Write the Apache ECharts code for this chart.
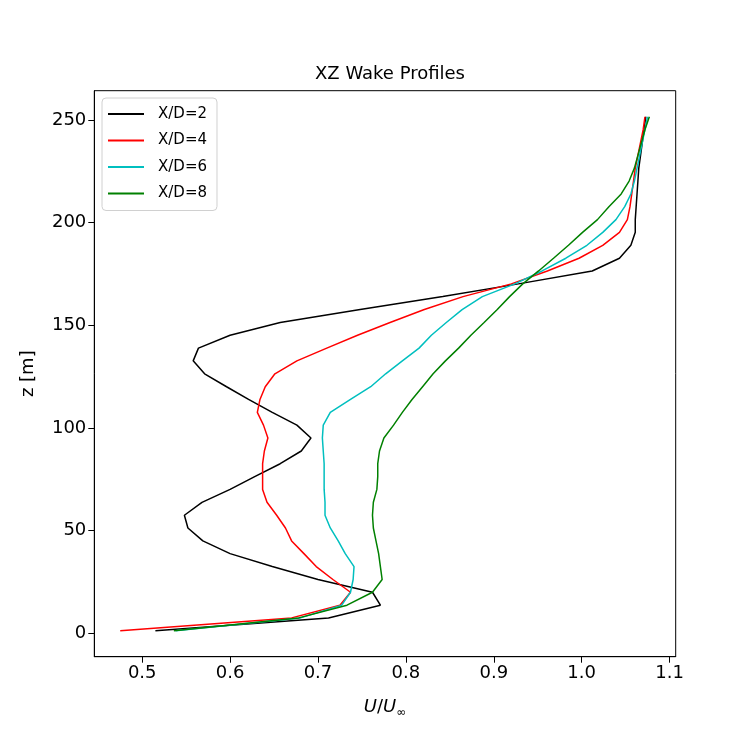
<!DOCTYPE html>
<html>
<head>
<meta charset="utf-8">
<script src="https://cdn.jsdelivr.net/npm/echarts@6/dist/echarts.min.js"></script>
<style>html,body{margin:0;padding:0;background:#fff}#c{width:750px;height:750px}</style>
</head>
<body>
<div id="c"></div>
<script>
// Heights (m) of the profile sample levels
var zLevels = [1.2, 7.5, 13.7, 20.0, 26.2, 32.5, 38.8, 45.0, 51.3, 57.5, 63.8, 70.1, 76.3, 82.6, 88.8, 95.1,
  101.4, 107.6, 113.9, 120.1, 126.4, 132.7, 138.9, 145.2, 151.4, 157.7, 164.0, 170.2, 176.5, 182.7, 189.0,
  195.3, 201.5, 207.8, 214.0, 220.3, 226.6, 232.8, 239.1, 245.3, 251.6];

var xd2 = [0.515, 0.712, 0.771, 0.762, 0.700, 0.648, 0.600, 0.569, 0.552, 0.548, 0.568, 0.600, 0.628, 0.657, 0.681, 0.692,
  0.676, 0.648, 0.621, 0.596, 0.571, 0.558, 0.564, 0.600, 0.657, 0.748, 0.842, 0.928, 1.012, 1.043, 1.056,
  1.061, 1.061, 1.062, 1.063, 1.064, 1.065, 1.067, 1.069, 1.071, 1.073];
var xd4 = [0.475, 0.670, 0.725, 0.737, 0.717, 0.698, 0.684, 0.670, 0.663, 0.653, 0.642, 0.637, 0.637, 0.637, 0.639, 0.643,
  0.638, 0.631, 0.634, 0.640, 0.651, 0.676, 0.710, 0.745, 0.782, 0.821, 0.865, 0.920, 0.961, 0.997, 1.024,
  1.043, 1.052, 1.055, 1.057, 1.059, 1.061, 1.064, 1.067, 1.070, 1.072];
var xd6 = [0.538, 0.680, 0.727, 0.737, 0.740, 0.741, 0.731, 0.723, 0.714, 0.708, 0.708, 0.707, 0.707, 0.707, 0.706, 0.705,
  0.706, 0.714, 0.737, 0.760, 0.777, 0.796, 0.815, 0.829, 0.846, 0.864, 0.887, 0.924, 0.955, 0.982, 1.006,
  1.024, 1.039, 1.049, 1.056, 1.060, 1.063, 1.066, 1.069, 1.072, 1.075];
var xd8 = [0.536, 0.678, 0.733, 0.762, 0.773, 0.771, 0.769, 0.766, 0.763, 0.762, 0.763, 0.767, 0.768, 0.768, 0.770, 0.775,
  0.786, 0.796, 0.807, 0.819, 0.831, 0.845, 0.860, 0.874, 0.889, 0.904, 0.918, 0.933, 0.951, 0.968, 0.985,
  1.001, 1.018, 1.031, 1.045, 1.054, 1.060, 1.064, 1.068, 1.072, 1.077];

var seriesNames = ['X/D=2', 'X/D=4', 'X/D=6', 'X/D=8'];
var seriesColors = ['#000000', '#ff0000', '#00bfbf', '#008000'];
var seriesValues = [xd2, xd4, xd6, xd8];

var xTicks = [0.5, 0.6, 0.7, 0.8, 0.9, 1.0, 1.1];
var yTicks = [0, 50, 100, 150, 200, 250];

function pairs(vals) {
  return vals.map(function (v, i) { return [v, zLevels[i]]; });
}

var font = '"DejaVu Sans", sans-serif';
var chart = echarts.init(document.getElementById('c'), null, {renderer: 'canvas'});
chart.setOption({
  animation: false,
  backgroundColor: '#ffffff',
  title: {
    text: 'XZ Wake Profiles',
    left: 385, top: 60, textAlign: 'center',
    textStyle: {fontFamily: font, fontSize: 18, fontWeight: 'normal', color: '#000'}
  },
  legend: {
    orient: 'vertical',
    left: 102, top: 98,
    padding: [7, 10, 8, 6],
    itemGap: 8.5,
    itemWidth: 36, itemHeight: 2,
    icon: 'rect',
    borderColor: '#d0d0d0', borderWidth: 1, borderRadius: 4,
    backgroundColor: '#ffffff',
    textStyle: {fontFamily: font, fontSize: 15, color: '#000', padding: [0, 0, 0, 9], lineHeight: 18},
    data: seriesNames
  },
  grid: {
    left: 94.3, right: 74.3, top: 90.7, bottom: 93.3,
    show: true, borderColor: '#000', borderWidth: 1, backgroundColor: 'transparent'
  },
  xAxis: {
    type: 'value', min: 0.4455, max: 1.107,
    name: '{i|U}/{i|U}{s|∞}', nameLocation: 'middle', nameGap: 40,
    nameTextStyle: {
      fontFamily: font, fontSize: 18, color: '#000',
      rich: {
        i: {fontFamily: font, fontSize: 18, fontStyle: 'italic', color: '#000'},
        s: {fontFamily: font, fontSize: 12, color: '#000', padding: [10, 0, 0, 0]}
      }
    },
    axisLine: {show: true, onZero: false, lineStyle: {color: '#000', width: 1}},
    axisTick: {show: true, inside: false, length: 6, customValues: xTicks, lineStyle: {color: '#000'}},
    axisLabel: {
      customValues: xTicks, margin: 8,
      fontFamily: font, fontSize: 18, color: '#000',
      formatter: function (v) { return v.toFixed(1); }
    },
    splitLine: {show: false}
  },
  yAxis: {
    type: 'value', min: -11.4, max: 264.3,
    name: 'z [m]', nameLocation: 'middle', nameGap: 57,
    nameTextStyle: {fontFamily: font, fontSize: 18, color: '#000'},
    axisLine: {show: true, onZero: false, lineStyle: {color: '#000', width: 1}},
    axisTick: {show: true, inside: false, length: 6, customValues: yTicks, lineStyle: {color: '#000'}},
    axisLabel: {customValues: yTicks, margin: 8, fontFamily: font, fontSize: 18, color: '#000'},
    splitLine: {show: false}
  },
  series: seriesNames.map(function (name, k) {
    return {
      name: name, type: 'line',
      data: pairs(seriesValues[k]),
      showSymbol: false, symbol: 'none',
      color: seriesColors[k],
      lineStyle: {color: seriesColors[k], width: 1.5},
      emphasis: {disabled: true},
      z: 2 + k
    };
  })
});
</script>
</body>
</html>
